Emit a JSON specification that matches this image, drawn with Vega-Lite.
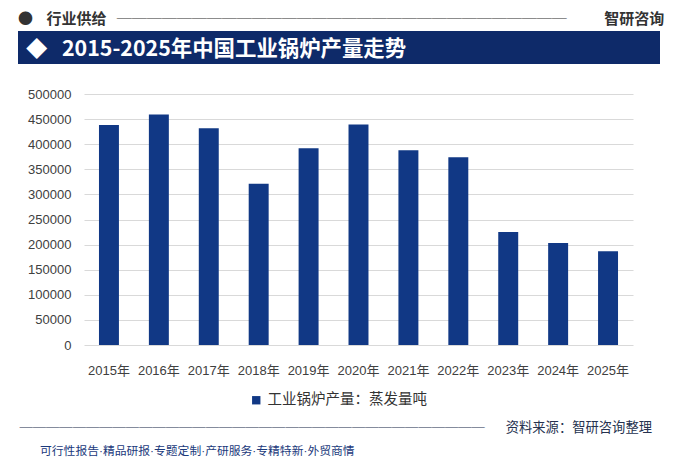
{
  "$schema": "https://vega.github.io/schema/vega-lite/v6.json",
  "background": "white",
  "padding": {"left": 18, "top": 12, "right": 18, "bottom": 0},
  "title": {
    "text": "可行性报告·精品研报·专题定制·产研服务·专精特新·外贸商情",
    "orient": "bottom",
    "anchor": "start",
    "dx": 22,
    "offset": 12,
    "fontSize": 11.8,
    "fontWeight": "normal",
    "color": "#1b3a7c",
    "font": "Liberation Sans, Noto Sans CJK SC"
  },
  "columns": 1,
  "spacing": 24,
  "resolve": {"legend": {"color": "independent"}},
  "concat": [
    {
      "title": {
        "text": "●\u00a0\u00a0\u00a0\u00a0行业供给\u00a0\u00a0\u00a0──────────────────────────────\u00a0\u00a0\u00a0\u00a0\u00a0\u00a0\u00a0\u00a0\u00a0\u00a0\u00a0智研咨询",
        "anchor": "start",
        "offset": 4,
        "fontSize": 15,
        "fontWeight": "bold",
        "color": "#333333",
        "font": "Noto Sans CJK SC"
      },
      "vconcat": [
        {
          "width": 642,
          "height": 33,
          "title": {
            "text": "◆\u00a0\u00a0\u00a02015-2025年中国工业锅炉产量走势",
            "anchor": "start",
            "dx": 8,
            "offset": -29,
            "fontSize": 21.4,
            "fontWeight": "bold",
            "color": "white",
            "font": "Noto Sans CJK SC"
          },
          "data": {"values": [{"band": "header"}]},
          "mark": {"type": "rect", "color": "#0e2a69"},
          "encoding": {}
        }
      ]
    },
    {
      "width": 615,
      "height": 251,
      "title": {
        "text": "───────────────────────────────────\u00a0\u00a0\u00a0\u00a0\u00a0\u00a0\u00a0资料来源：智研咨询整理",
        "orient": "bottom",
        "anchor": "end",
        "dx": 19,
        "offset": 14,
        "fontSize": 13.3,
        "fontWeight": "normal",
        "color": "#26324f",
        "font": "Noto Sans CJK SC"
      },
      "data": {
        "values": [
          {"year": "2015年", "output": 438000},
          {"year": "2016年", "output": 459000},
          {"year": "2017年", "output": 432000},
          {"year": "2018年", "output": 321000},
          {"year": "2019年", "output": 392000},
          {"year": "2020年", "output": 439000},
          {"year": "2021年", "output": 388000},
          {"year": "2022年", "output": 374000},
          {"year": "2023年", "output": 225000},
          {"year": "2024年", "output": 203000},
          {"year": "2025年", "output": 187000}
        ]
      },
      "mark": {"type": "bar"},
      "encoding": {
        "x": {
          "field": "year",
          "type": "ordinal",
          "sort": null,
          "scale": {"range": [66, 615], "paddingInner": 0.6, "paddingOuter": 0.3},
          "axis": {"labelAngle": 0, "labelPadding": 19, "grid": false}
        },
        "y": {
          "field": "output",
          "type": "quantitative",
          "scale": {"domain": [0, 500000], "nice": false},
          "axis": {
            "values": [0, 50000, 100000, 150000, 200000, 250000, 300000, 350000, 400000, 450000, 500000],
            "format": "d",
            "offset": -66,
            "labelPadding": 13,
            "grid": true,
            "gridColor": "#d9d9d9"
          }
        },
        "color": {
          "datum": "工业锅炉产量：蒸发量吨",
          "scale": {"range": ["#113885"]},
          "legend": {
            "orient": "none",
            "legendX": 231,
            "legendY": 299,
            "title": null,
            "symbolType": "square",
            "symbolSize": 70,
            "labelFontSize": 14.5,
            "labelFont": "Noto Sans CJK SC",
            "labelColor": "#333333",
            "labelOffset": 4
          }
        }
      }
    }
  ],
  "config": {
    "view": {"stroke": null},
    "axis": {
      "title": null,
      "domain": false,
      "ticks": false,
      "tickSize": 0,
      "labelFont": "Liberation Sans, Noto Sans CJK SC",
      "labelFontSize": 13,
      "labelColor": "#404040"
    }
  }
}
